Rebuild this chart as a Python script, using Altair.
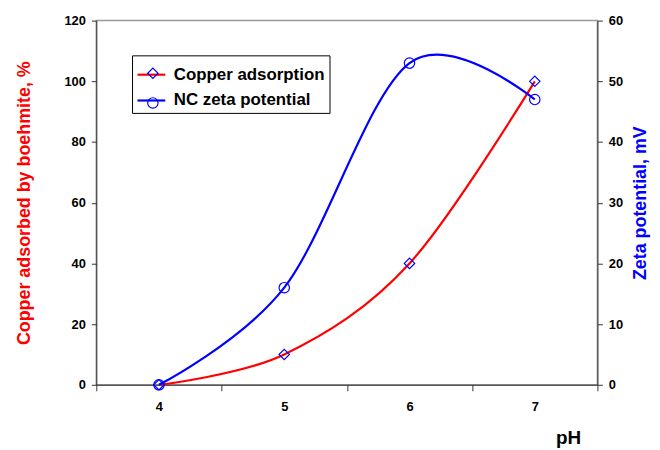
import altair as alt
import pandas as pd

ph = [4, 5, 6, 7]
copper = [0, 10, 40, 100]
zeta = [0, 16, 53, 47]
series_names = ["Copper adsorption", "NC zeta potential"]
marker_names = ["Copper adsorption ", "NC zeta potential "]
x_ticks = [3.5, 4, 4.5, 5, 5.5, 6, 6.5, 7, 7.5]

df_cu = pd.DataFrame({"pH": ph, "value": copper, "series": series_names[0], "mk": marker_names[0]})
df_ze = pd.DataFrame({"pH": ph, "value": zeta, "series": series_names[1], "mk": marker_names[1]})

FONT = "Arial, Liberation Sans, sans-serif"

xscale = alt.Scale(domain=[3.5, 7.5], nice=False, zero=False)
xaxis = alt.Axis(
    values=x_ticks, labelOverlap=False,
    labelExpr="datum.value % 1 == 0 ? '' + datum.value : ''",
    tickOpacity={"condition": {"test": "datum.value % 1 == 0", "value": 0}, "value": 1},
    title="pH", titleAnchor="end", titleAlign="right", titleBaseline="alphabetic",
    titleFontSize=19, titleFontWeight="bold",
    titleX=488, titleY=59, titleColor="black",
    labelFontSize=13, labelFontWeight="bold", labelColor="black", labelPadding=10,
    grid=False, domainColor="#333", tickColor="#333", tickSize=6,
)

color_scale = alt.Scale(domain=series_names, range=["#ff0000", "#0000ff"])
shape_scale = alt.Scale(domain=marker_names, range=["diamond", "circle"])

LEG_X, LEG_Y = 36, 35

color_legend = alt.Legend(
    title=None, orient="none", legendX=LEG_X, legendY=LEG_Y,
    symbolType="stroke", symbolStrokeWidth=2.2, symbolSize=784,
    labelFontSize=17, labelFontWeight="bold", labelColor="black", labelFont=FONT,
    strokeColor="black", fillColor="white", padding=4, rowPadding=2, labelOffset=7,
)
shape_legend = alt.Legend(
    title=None, orient="none", legendX=LEG_X, legendY=LEG_Y,
    symbolSize=110, symbolStrokeColor="#0000ff", symbolFillColor="transparent",
    symbolStrokeWidth=1.2, labelExpr="''",
    labelFontSize=28, labelFontWeight="bold", labelFont=FONT,
    padding=4, rowPadding=2, labelOffset=7, symbolOffset=3,
)

def layer(df, ydomain, axis):
    base = alt.Chart(df).encode(
        x=alt.X("pH:Q", scale=xscale, axis=xaxis),
        y=alt.Y("value:Q", scale=alt.Scale(domain=ydomain, nice=False), axis=axis),
    )
    line = base.mark_line(interpolate="cardinal", tension=0, strokeWidth=2.2).encode(
        color=alt.Color("series:N", scale=color_scale, legend=color_legend)
    )
    pts = base.mark_point(size=110, filled=False, strokeWidth=1.2, color="#0000ff", opacity=1).encode(
        shape=alt.Shape("mk:N", scale=shape_scale, legend=shape_legend)
    )
    return alt.layer(line, pts)

left_axis = alt.Axis(
    values=[0, 20, 40, 60, 80, 100, 120], title="Copper adsorbed by boehmite, %",
    titleColor="#ff0000", titleFontSize=18, titleFontWeight="bold", titlePadding=31,
    labelFontSize=13, labelFontWeight="bold", labelColor="black", labelPadding=6,
    grid=False, domainColor="#333", tickColor="#333", tickSize=5,
)
right_axis = alt.Axis(
    orient="right", values=[0, 10, 20, 30, 40, 50, 60], title="Zeta potential, mV",
    titleColor="#0000ff", titleFontSize=18, titleFontWeight="bold", titleAngle=270,
    titleBaseline="top", titlePadding=9,
    labelFontSize=13, labelFontWeight="bold", labelColor="black", labelPadding=6,
    grid=False, domainColor="#333", tickColor="#333", tickSize=5,
)

chart = alt.layer(
    layer(df_cu, [0, 120], left_axis),
    layer(df_ze, [0, 60], right_axis),
).resolve_scale(y="independent").properties(
    width=505, height=367,
    autosize=alt.AutoSizeParams(type="none"),
    padding={"left": 89, "top": 11, "right": 55, "bottom": 64},
).configure(font=FONT).configure_view(stroke="#999999", strokeWidth=1.5)

chart.save("out.html", embed_options={"renderer": "svg", "actions": False})
